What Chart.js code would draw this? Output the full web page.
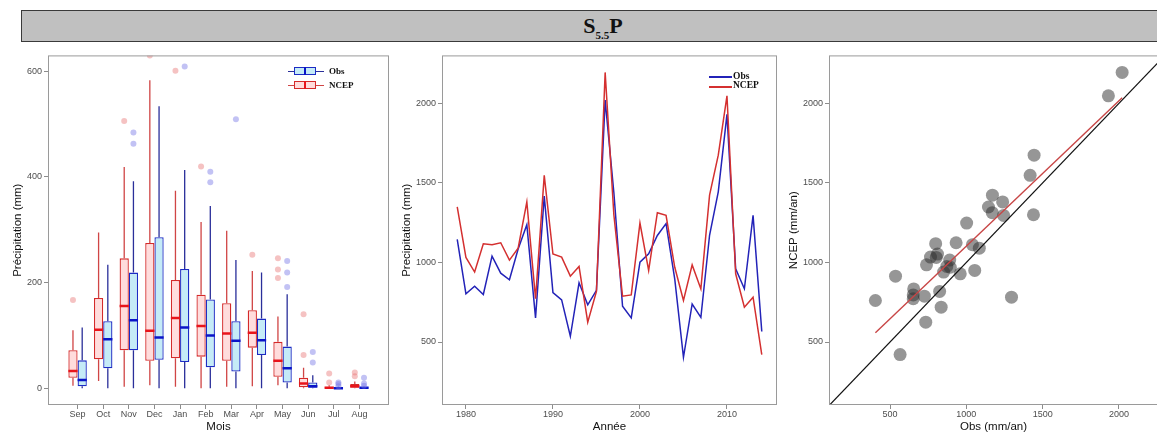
<!DOCTYPE html>
<html>
<head>
<meta charset="utf-8">
<script src="https://cdn.jsdelivr.net/npm/chart.js@4.4.1/dist/chart.umd.min.js"></script>
<style>
html,body{margin:0;padding:0;background:#fff;overflow:hidden;width:1157px;height:439px;}
body{position:relative;font-family:"Liberation Sans",Arial,sans-serif;}
#title{position:absolute;left:21px;top:10px;width:1162px;height:30px;background:#c0c0c0;border:1px solid #3a3a3a;
  text-align:center;font:bold 22px "Liberation Serif","Times New Roman",serif;line-height:29px;color:#111;}
#title sub{font-size:11px;vertical-align:-6px;line-height:0;}
.panel{position:absolute;top:48px;height:391px;}
.panel canvas{display:block;}
.lab{position:absolute;font-family:"Liberation Serif","Times New Roman",serif;font-weight:bold;color:#111;line-height:1;white-space:nowrap;}
.bkey{position:absolute;width:36px;height:8px;}
.bkey i{position:absolute;display:block;}
.bkey .wl{left:0;right:0;top:3.5px;height:1px;}
.bkey .bx{left:6px;width:22px;top:0;height:8px;box-sizing:border-box;border:1px solid;}
.bkey .md{left:16px;width:2px;top:0;height:8px;}
.lkey{position:absolute;width:23px;height:2px;}
</style>
</head>
<body>
<div id="title">S<sub>5.5</sub>P</div>

<div class="panel" style="left:0;width:395px"><canvas id="box" width="395" height="391"></canvas></div>
<div class="panel" style="left:395px;width:390px"><canvas id="line" width="390" height="391"></canvas></div>
<div class="panel" style="left:785px;width:380px"><canvas id="scat" width="380" height="391"></canvas></div>

<!-- legend, box plot panel -->
<div class="bkey" style="left:288px;top:67px">
  <i class="wl" style="background:#2a2f9a"></i><i class="bx" style="background:#c5ebf7;border-color:#1c2bc4"></i><i class="md" style="background:#0a14c8"></i>
</div>
<div class="lab" style="left:329px;top:67px;font-size:9px">Obs</div>
<div class="bkey" style="left:288px;top:81px">
  <i class="wl" style="background:#d04545"></i><i class="bx" style="background:#ffdcdc;border-color:#d42a2a"></i><i class="md" style="background:#e8141b"></i>
</div>
<div class="lab" style="left:329px;top:81px;font-size:9px">NCEP</div>

<!-- legend, line panel -->
<div class="lkey" style="left:709px;top:76px;background:#2323b8"></div>
<div class="lab" style="left:733px;top:72px;font-size:9.5px">Obs</div>
<div class="lkey" style="left:709px;top:86px;background:#d43030"></div>
<div class="lab" style="left:733px;top:81px;font-size:9.5px">NCEP</div>

<script>
/* ---------- data ---------- */
const MONTHS = ["Sep","Oct","Nov","Dec","Jan","Feb","Mar","Apr","May","Jun","Jul","Aug"];
// monthly box stats: [lower whisker, q1, median, q3, upper whisker]
const NCEP_BOX = [
  [5,20,33,72,110], [14,55,111,171,295], [3,72,156,246,419], [6,52,109,275,583],
  [3,57,133,205,374], [0,60,118,177,315], [3,52,104,161,298], [4,77,105,148,222],
  [6,22,52,88,136], [0,2,9,20,39], [0,0,1,3,6], [0,1,4,8,13]
];
const OBS_BOX = [
  [0,4,16,53,115], [0,38,93,127,234], [0,72,129,219,392], [0,54,96,286,534],
  [0,50,115,226,413], [0,40,100,168,345], [0,32,90,127,243], [0,63,91,132,219],
  [0,11,38,79,178], [0,1,4,11,25], [0,0,0,2,3], [0,0,1,2,3]
];
const NCEP_OUT = [[167],[],[506],[630],[601],[420],[],[253],[209,225,246],[63,140],[11,28],[23,30]];
const OBS_OUT  = [[],[],[463,484],[],[609],[390,410],[509],[],[192,219,241],[49,69],[4,8,11],[5,9,20]];
const BOX_TICKS = [0,200,400,600];

const YEARS = [1979,1980,1981,1982,1983,1984,1985,1986,1987,1988,1989,1990,1991,1992,1993,1994,1995,1996,
               1997,1998,1999,2000,2001,2002,2003,2004,2005,2006,2007,2008,2009,2010,2011,2012,2013,2014];
const OBS_YEAR  = [1145,803,851,799,1040,933,891,1085,1238,652,1418,811,765,536,872,734,825,2021,
                   1440,725,652,1002,1055,1170,1244,895,404,739,655,1171,1444,1931,960,835,1296,566];
const NCEP_YEAR = [1349,1032,940,1118,1112,1124,1015,1090,1381,772,1548,1053,1034,914,975,625,818,2195,
                   1300,788,796,1248,950,1313,1296,970,761,985,834,1423,1675,2048,929,719,782,421];
const YEAR_TICKS = [1980,1990,2000,2010];
const PREC_TICKS = [500,1000,1500,2000];

/* ---------- shared look ---------- */
const TICK_FONT = {family:"Liberation Sans", size:9};
const TITLE_FONT = {family:"Liberation Sans", size:11.5};
const AXIS_GREY = "#8c8c8c";
const RED = {fill:"#ffdcdc", edge:"#d42a2a", med:"#e8141b", whisk:"#d04545", out:"rgba(232,120,120,0.45)"};
const BLUE = {fill:"#c5ebf7", edge:"#1c2bc4", med:"#0a14c8", whisk:"#2a2f9a", out:"rgba(120,120,230,0.45)"};

const setTicks = vals => s => { s.ticks = vals.map(v => ({value:v})); };
const plain = v => String(v);

function axis(extra){
  return Object.assign({
    grid:{drawOnChartArea:false, tickLength:4, color:AXIS_GREY},
    border:{display:false},
    ticks:{color:"#4d4d4d", font:TICK_FONT, padding:2, autoSkip:false, maxRotation:0}
  }, extra);
}
function xticks(cb){ return {color:"#4d4d4d", font:TICK_FONT, padding:0, autoSkip:false, maxRotation:0, callback:cb}; }
function title(text, pad){ return {display:true, text, color:"#111", font:TITLE_FONT, padding:pad}; }

// grey panel border like ggplot
const framePlugin = {
  id:"frame",
  afterDatasetsDraw(chart){
    const a = chart.chartArea, ctx = chart.ctx;
    ctx.save();
    ctx.strokeStyle = "#9a9a9a"; ctx.lineWidth = 1;
    ctx.strokeRect(a.left + 0.5, a.top + 0.5, a.right - a.left - 1, a.bottom - a.top - 1);
    ctx.restore();
  }
};

/* ---------- panel 1: monthly box plots ---------- */
const SERIES = [
  {box:NCEP_BOX, out:NCEP_OUT, c:RED},
  {box:OBS_BOX,  out:OBS_OUT,  c:BLUE}
];

const boxPlugin = {
  id:"boxParts",
  beforeDatasetsDraw(chart){
    const ctx = chart.ctx, y = chart.scales.y;
    ctx.save();
    SERIES.forEach((s, di) => {
      chart.getDatasetMeta(di).data.forEach((bar, i) => {
        const b = s.box[i];
        ctx.strokeStyle = s.c.whisk; ctx.lineWidth = 1.3;
        ctx.beginPath();
        ctx.moveTo(bar.x, y.getPixelForValue(b[0])); ctx.lineTo(bar.x, y.getPixelForValue(b[1]));
        ctx.moveTo(bar.x, y.getPixelForValue(b[3])); ctx.lineTo(bar.x, y.getPixelForValue(b[4]));
        ctx.stroke();
      });
    });
    ctx.restore();
  },
  afterDatasetsDraw(chart){
    const ctx = chart.ctx, y = chart.scales.y, a = chart.chartArea;
    ctx.save();
    ctx.beginPath(); ctx.rect(a.left, a.top, a.right - a.left, a.bottom - a.top); ctx.clip();
    SERIES.forEach((s, di) => {
      chart.getDatasetMeta(di).data.forEach((bar, i) => {
        const half = bar.width / 2, my = y.getPixelForValue(s.box[i][2]);
        ctx.strokeStyle = s.c.med; ctx.lineWidth = 2.5;
        ctx.beginPath(); ctx.moveTo(bar.x - half, my); ctx.lineTo(bar.x + half, my); ctx.stroke();
        ctx.fillStyle = s.c.out;
        s.out[i].forEach(v => {
          ctx.beginPath(); ctx.arc(bar.x, y.getPixelForValue(v), 3, 0, Math.PI * 2); ctx.fill();
        });
      });
    });
    ctx.restore();
  }
};

new Chart(document.getElementById("box"), {
  type:"bar",
  data:{
    datasets: SERIES.map((s, di) => ({
      label: di ? "Obs" : "NCEP",
      data: s.box.map((b, i) => ({x:i, y:[b[1], b[3]]})),
      backgroundColor: s.c.fill, borderColor: s.c.edge, borderWidth:1.3, borderSkipped:false
    }))
  },
  options:{
    responsive:false, animation:false, devicePixelRatio:1,
    categoryPercentage:0.72, barPercentage:1,
    layout:{padding:{top:7, right:6, left:0, bottom:0}},
    plugins:{legend:{display:false}, tooltip:{enabled:false}},
    scales:{
      x: axis({type:"linear", min:-0.6, max:11.6, afterBuildTicks:setTicks(MONTHS.map((m, i) => i)),
        afterFit: s => { s.height = 34; },
        grid:{drawOnChartArea:false, tickLength:4, color:AXIS_GREY, offset:false},
        ticks:xticks(v => MONTHS[v]),
        title:title("Mois", {top:0, bottom:5})}),
      y: axis({min:-31.5, max:630, afterBuildTicks:setTicks(BOX_TICKS),
        afterFit: s => { s.width = 48; },
        title:title("Précipitation (mm)", {top:11, bottom:0})})
    }
  },
  plugins:[boxPlugin, framePlugin]
});

/* ---------- panel 2: annual series ---------- */
new Chart(document.getElementById("line"), {
  type:"line",
  data:{
    datasets:[
      {label:"NCEP", data: YEARS.map((yr, i) => ({x:yr, y:NCEP_YEAR[i]})), borderColor:"#d43030", borderWidth:1.5, pointRadius:0, tension:0},
      {label:"Obs",  data: YEARS.map((yr, i) => ({x:yr, y:OBS_YEAR[i]})),  borderColor:"#2323b8", borderWidth:1.5, pointRadius:0, tension:0}
    ]
  },
  options:{
    responsive:false, animation:false, devicePixelRatio:1,
    layout:{padding:{top:7, right:8, left:0, bottom:0}},
    plugins:{legend:{display:false}, tooltip:{enabled:false}},
    scales:{
      x: axis({type:"linear", min:1977.25, max:2015.75, afterBuildTicks:setTicks(YEAR_TICKS),
        afterFit: s => { s.height = 34; },
        ticks:xticks(plain),
        title:title("Année", {top:0, bottom:5})}),
      y: axis({type:"linear", min:104, max:2302, afterBuildTicks:setTicks(PREC_TICKS),
        afterFit: s => { s.width = 47; },
        ticks:{color:"#4d4d4d", font:TICK_FONT, padding:2, autoSkip:false, callback:plain},
        title:title("Precipitation (mm)", {top:5, bottom:0})})
    }
  },
  plugins:[framePlugin]
});

/* ---------- panel 3: Obs vs NCEP scatter ---------- */
const SC_X = [100, 2256], SC_Y = [104, 2302];
// least-squares fit of NCEP on Obs, drawn over the observed range
const n = OBS_YEAR.length;
const mx = OBS_YEAR.reduce((a, v) => a + v, 0) / n;
const my = NCEP_YEAR.reduce((a, v) => a + v, 0) / n;
let sxy = 0, sxx = 0;
OBS_YEAR.forEach((x, i) => { sxy += (x - mx) * (NCEP_YEAR[i] - my); sxx += (x - mx) * (x - mx); });
const slope = sxy / sxx, icpt = my - slope * mx;
const fitX = [Math.min(...OBS_YEAR), Math.max(...OBS_YEAR)];

new Chart(document.getElementById("scat"), {
  type:"scatter",
  data:{
    datasets:[
      {data: fitX.map(x => ({x, y:icpt + slope * x})), showLine:true, borderColor:"#c84646", borderWidth:1.4, pointRadius:0},
      {data: SC_X.map(v => ({x:v, y:v})), showLine:true, borderColor:"#111", borderWidth:1.2, pointRadius:0},
      {data: OBS_YEAR.map((o, i) => ({x:o, y:NCEP_YEAR[i]})), backgroundColor:"rgba(45,45,45,0.5)", borderWidth:0, pointRadius:6.5}
    ]
  },
  options:{
    responsive:false, animation:false, devicePixelRatio:1,
    layout:{padding:{top:7, right:7, left:0, bottom:0}},
    plugins:{legend:{display:false}, tooltip:{enabled:false}},
    scales:{
      x: axis({type:"linear", min:SC_X[0], max:SC_X[1], afterBuildTicks:setTicks(PREC_TICKS),
        afterFit: s => { s.height = 34; },
        ticks:xticks(plain),
        title:title("Obs (mm/an)", {top:0, bottom:5})}),
      y: axis({type:"linear", min:SC_Y[0], max:SC_Y[1], afterBuildTicks:setTicks(PREC_TICKS),
        afterFit: s => { s.width = 44; },
        ticks:{color:"#4d4d4d", font:TICK_FONT, padding:2, autoSkip:false, callback:plain},
        title:title("NCEP (mm/an)", {top:2, bottom:0})})
    }
  },
  plugins:[framePlugin]
});
</script>
</body>
</html>
